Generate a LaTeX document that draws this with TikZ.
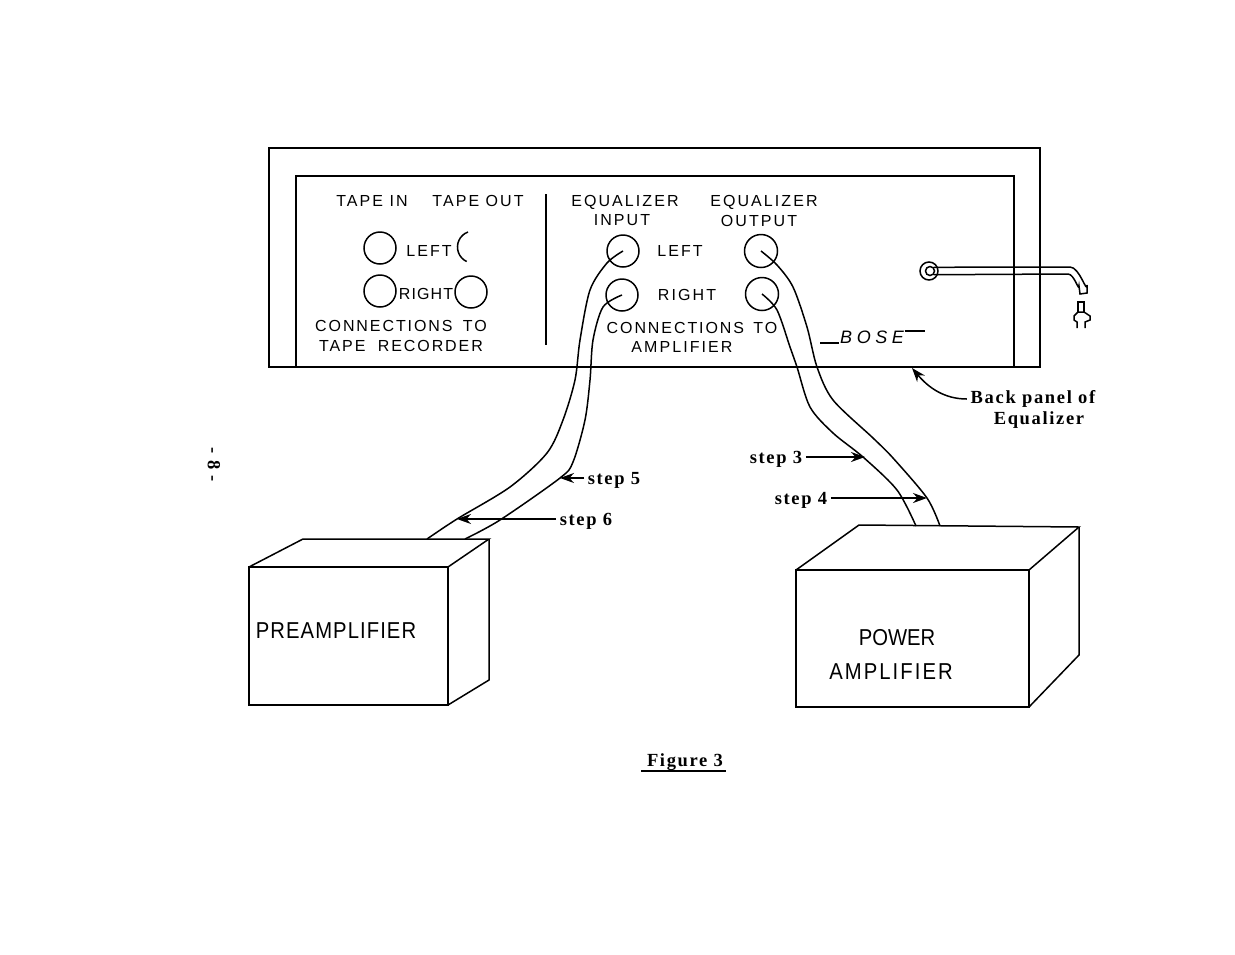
\documentclass[tikz,border=0pt]{standalone}
\usepackage{xcolor}
\usepackage{tikz}
\usepackage{fontspec}
\usetikzlibrary{arrows.meta}
\setmainfont{Liberation Serif}
\newfontfamily\panelfont[LetterSpace=13]{Liberation Sans}
\newfontfamily\boxfont[FakeStretch=0.88]{Liberation Sans}
\newfontfamily\noteFont[LetterSpace=9]{Liberation Serif}
\tikzset{
  panel/.style={inner sep=0pt,font=\panelfont\fontsize{16}{16}\selectfont},
  note/.style={inner sep=0pt,font=\noteFont\bfseries\fontsize{18.5}{18.5}\selectfont},
  boxlabel/.style={inner sep=0pt,font=\boxfont\fontsize{23}{23}\selectfont},
  jack/.style={draw,circle,inner sep=0pt,minimum size=#1},
  pointer/.style={line width=1.5pt,-{Stealth[length=14pt,width=10pt]},shorten <=3pt}
}

\begin{document}
\begin{tikzpicture}[x=1pt,y=-1pt,line width=1.5pt]
  \useasboundingbox (0,0) rectangle (1235,954);
  \def \PL {296}
  \def \PR {1014}
  \def \PT {176}
  \def \PB {367}

  % back panel
  \draw (269,\PB) -- (269,148) -- (1040,148) -- (1040,\PB) -- cycle;
  \draw (\PL,\PB) -- (\PL,\PT) -- (\PR,\PT) -- (\PR,\PB);
  \draw [line width=2.6pt] (546,194) -- (546,345);

  \node [panel] (tapein) at (372,201) {TAPE IN};
  \node [panel] (tapeout) at (478,201) {TAPE OUT};
  \node [panel] (tapeleft) at (429,251) {LEFT};
  \node [panel] (taperight) at (426,294) {\addfontfeature{LetterSpace=7}RIGHT};
  \node [panel] (tapeconn) at (401,326) {\addfontfeature{LetterSpace=12}CONNECTIONS\hspace{4pt} TO};
  \node [panel] (taperec) at (401,346) {\addfontfeature{LetterSpace=12}TAPE\hspace{6pt} RECORDER};
  \node [panel] (eqin) at (625,202) {EQUALIZER};
  \node [panel] (eqinb) at (622,220) {INPUT};
  \node [panel] (eqleft) at (680,251) {LEFT};
  \node [panel] (eqright) at (687,295) {RIGHT};
  \node [panel] (eqout) at (764,202) {EQUALIZER};
  \node [panel] (eqoutb) at (759,221) {OUTPUT};
  \node [panel] (eqconn) at (692,328) {\addfontfeature{LetterSpace=12}CONNECTIONS\hspace{3pt} TO};
  \node [panel] (eqamp) at (682,347) {AMPLIFIER};

  % jacks
  \node [jack=32pt] (jtapeinl) at (380,248) {};
  \node [jack=32pt] (jtapeinr) at (380,291) {};
  \draw (468,232) arc (-110:-245:16);
  \node [jack=32pt] (jtapeoutr) at (471,292) {};
  \node [jack=32pt] (jinl) at (623,251) {};
  \node [jack=32pt] (jinr) at (622,295) {};
  \node [jack=33pt] (joutl) at (761,251) {};
  \node [jack=33pt] (joutr) at (762,294) {};

  % BOSE
  \node [inner sep=0pt,font=\panelfont\itshape\fontsize{18}{18}\selectfont] (bose) at (872,337)
  {\addfontfeature{LetterSpace=25}BOSE};
  \draw (820,343) -- (bose.west |- 0,343);
  \draw (bose.east |- 0,331) -- (925,331);

  % power cord
  \node [jack=18pt] (cordjack) at (929,271) {};
  \node [jack=9pt] (cordin) at (930,271) {};
  \draw (cordin.north east) -- (1070,267) to [out=0,in=-90] (1087,285) -- (1087,293)
  -- (1080,294) -- (1079,286) to [out=-90,in=0] (1068,274) -- (cordin.south east);
  \draw (1078,312) -- (1078,302) -- (1084,302) -- (1084,312);
  \draw (1077,328) -- (1077,322) -- (1074,320) -- (1074,316) -- (1078,312) -- (1084,312)
  -- (1090,316) -- (1090,320) -- (1085,322) -- (1085,328);

  % boxes
  \draw (249,705) -- (249,567) -- (448,567) -- (448,705) -- cycle;
  \draw (249,567) -- (303,539) -- (489,539) -- (448,567);
  \draw (489,539) -- (489,680) -- (448,705);
  \draw (796,707) -- (796,570) -- (1029,570) -- (1029,707) -- cycle;
  \draw (796,570) -- (859,525) -- (1079,527) -- (1029,570);
  \draw (1079,527) -- (1079,655) -- (1029,707);
  \node [boxlabel] (preamp) at (336,631) {\addfontfeature{LetterSpace=4.7}PREAMPLIFIER};
  \node [boxlabel] (power) at (897,638) {POWER};
  \node [boxlabel] (poweramp) at (891,672) {\addfontfeature{LetterSpace=9}AMPLIFIER};

  % cables
  \coordinate (preA) at (427,539);
  \coordinate (preB) at (465,539);
  \coordinate (ampA) at (916,526);
  \coordinate (ampB) at (940,526);
  \draw plot [smooth] coordinates {(jinl.center) (607,263) (590,290) (580,340) (575,380)
    (563,420) (547,453) (510,487) (457,519) (preA)};
  \draw plot [smooth] coordinates {(jinr.center) (603,307) (593,340) (590,380)
    (585,420) (573,462) (560,478) (500,520) (preB)};
  \draw plot [smooth] coordinates {(joutl.center) (777,265) (793,287) (807,327) (817,367)
    (833,400) (873,438) (893,458) (927,498) (ampB)};
  \draw plot [smooth] coordinates {(joutr.center) (777,310) (790,347) (797,367)
    (810,407) (833,433) (863,457) (897,490) (ampA)};

  % labels and pointers
  \node [note] (step3) at (776,459) {step 3};
  \node [note] (step4) at (801,500) {step 4};
  \node [note] (step5) at (614,480) {step 5};
  \node [note] (step6) at (586,521) {step 6};
  \coordinate (tip3) at (865,457);
  \coordinate (tip4) at (927,498);
  \coordinate (tip5) at (560,478);
  \coordinate (tip6) at (457,519);
  \draw [pointer] (step3.east |- tip3) -- (tip3);
  \draw [pointer] (step4.east |- tip4) -- (tip4);
  \draw [pointer] (step5.west |- tip5) -- (tip5);
  \draw [pointer] (step6.west |- tip6) -- (tip6);

  \node [note] (backa) at (1033,399) {Back panel of};
  \node [note] (backb) at (1039,420) {Equalizer};
  \coordinate (tipback) at (912,368);
  \draw [pointer] (backa.west) to [out=180,in=-50] (tipback);

  \node [note] (figure) at (685,762) {Figure 3};
  \draw (641,771) -- (726,771);
  \node [note,rotate=-90] (page) at (214,465) {- 8 -};
\end{tikzpicture}
\end{document}
